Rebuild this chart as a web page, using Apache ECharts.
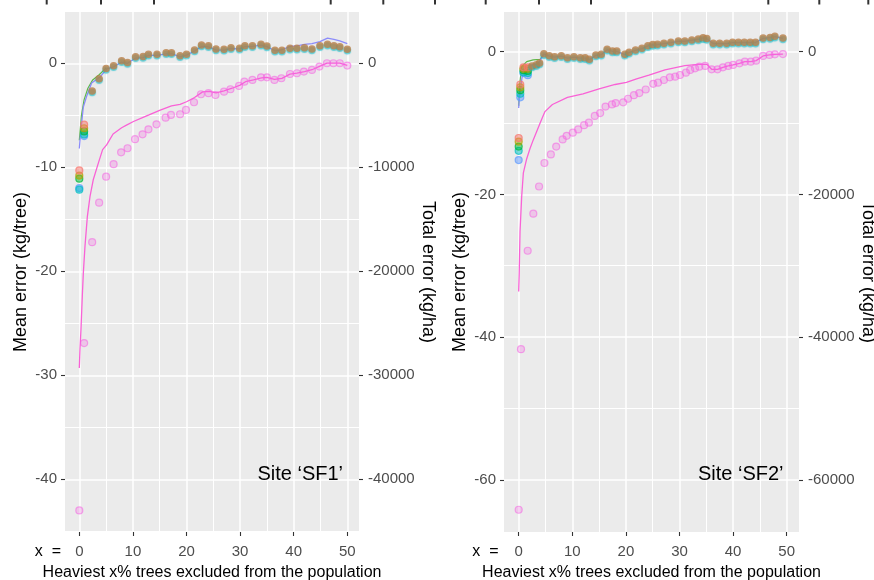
<!DOCTYPE html>
<html><head><meta charset="utf-8">
<script src="https://cdn.jsdelivr.net/npm/echarts@6/dist/echarts.min.js"></script>
<style>html,body{margin:0;padding:0;background:#fff}#c{width:874px;height:580px}</style>
</head><body><div id="c"></div><script>
// ---------- data ----------
// tick labels
const xTicks = [0, 10, 20, 30, 40, 50];
const xMinor = [5, 15, 25, 35, 45];
const yTicks1 = [-40, -30, -20, -10, 0];
const yMinor1 = [-45, -35, -25, -15, -5];
const yRight1 = [-40000, -30000, -20000, -10000, 0];
const yTicks2 = [-60, -40, -20, 0];
const yMinor2 = [-50, -30, -10];
const yRight2 = [-60000, -40000, -20000, 0];

// ---- Site SF1 ----
const startX1 = [0, 0.9];
const orange1 = [-10.3, -5.9];
const olive1 = [-10.8, -6.25];
const green1 = [-11.1, -6.55];
const cyan1 = [-12.15, -6.85];
const blue1 = [-12.0, -7.0];
const meanX1 = [2.4, 3.7, 5.0, 6.4, 7.9, 9.0, 10.5, 11.9, 12.9, 14.5, 16.2, 17.2, 18.8, 20.0, 21.5, 22.8, 24.1, 25.5, 27.0, 28.3, 29.9, 30.9, 32.3, 33.9, 35.0, 36.5, 37.8, 39.3, 40.6, 42.0, 43.4, 44.9, 46.3, 47.5, 48.6, 50.0];
const meanY1 = [-2.66, -1.5, -0.5, -0.25, 0.25, 0.08, 0.62, 0.64, 0.86, 0.86, 1.02, 1.02, 0.73, 0.86, 1.28, 1.76, 1.69, 1.37, 1.35, 1.5, 1.44, 1.69, 1.69, 1.83, 1.66, 1.25, 1.25, 1.44, 1.44, 1.5, 1.37, 1.69, 1.83, 1.69, 1.6, 1.35];
const meanLineX1 = [0, 0.3, 0.75, 1.35, 2.3, 3.9, 5.1, 6.4, 7.9, 9.0, 10.5, 11.9, 12.9, 14.5, 16.2, 17.2, 18.8, 20.0, 21.5, 22.8, 24.1, 25.5, 27.0, 28.3, 29.9, 30.9, 32.3, 33.9, 35.0, 36.5, 37.8, 39.3, 40.6, 42.0, 43.4, 44.9, 46.3, 47.5, 48.6, 50.0];
const meanLineY1 = [-8.2, -6.4, -4.2, -3.2, -1.9, -1.3, -0.55, -0.35, 0.12, 0.0, 0.5, 0.55, 0.75, 0.75, 0.9, 0.92, 0.62, 0.78, 1.18, 1.62, 1.58, 1.28, 1.27, 1.42, 1.38, 1.6, 1.62, 1.75, 1.6, 1.2, 1.3, 1.62, 1.68, 1.82, 1.88, 2.08, 2.42, 2.3, 2.15, 1.9];
const fitX1 = [0, 0.4, 0.9, 1.6, 2.5, 3.7, 5.0];
const fitY1 = [-7.4, -5.0, -3.5, -2.4, -1.6, -1.1, -0.45];
const totalX1 = [0, 0.9, 2.4, 3.7, 5.0, 6.4, 7.8, 9.0, 10.4, 11.8, 12.9, 14.4, 16.1, 17.1, 18.8, 19.9, 21.4, 22.7, 24.1, 25.4, 27.0, 28.2, 29.8, 30.8, 32.3, 33.9, 35.0, 36.4, 37.7, 39.3, 40.6, 41.9, 43.4, 44.8, 46.2, 47.4, 48.6, 50.0];
const totalY1 = [-43000, -26900, -17200, -13400, -10900, -9700, -8560, -8170, -7300, -6830, -6350, -5870, -5230, -4970, -4900, -4490, -3750, -2980, -2880, -3050, -2730, -2500, -2180, -1770, -1600, -1350, -1350, -1600, -1440, -1030, -960, -800, -640, -320, 0, 0, 0, -220];
const totalLineX1 = [0, 0.12, 0.31, 0.56, 0.75, 1.06, 1.5, 2.0, 2.6, 3.55, 4.35, 5.1, 6.3, 7.9, 8.8, 10.1, 11.9, 13.0, 15.1, 17.2, 18.8, 20.0, 21.5, 23.0, 24.3, 25.5, 27.0, 28.5, 30.0, 31.0, 32.5, 34.0, 35.0, 36.4, 37.8, 39.3, 40.6, 42.0, 43.4, 44.8, 46.2, 47.4, 48.6, 50.0];
const totalLineY1 = [-29300, -27600, -25600, -22400, -20200, -17600, -14750, -12800, -11200, -9600, -8300, -7850, -6800, -6200, -5950, -5600, -5200, -4970, -4500, -4100, -3950, -3700, -3300, -2750, -2700, -2850, -2650, -2400, -2100, -1770, -1600, -1400, -1350, -1550, -1450, -1050, -950, -800, -620, -300, 20, 20, 20, -200];

// ---- Site SF2 ----
const startX2 = [0, 0.3, 0.9, 1.7];
const orange2 = [-12.1, -4.6, -2.2, -2.2];
const olive2 = [-12.6, -5.0, -2.4, -2.4];
const green2 = [-13.3, -5.4, -2.6, -2.7];
const cyan2 = [-13.9, -5.9, -2.9, -3.0];
const blue2 = [-15.2, -6.4, -3.0, -3.3];
const meanX2 = [2.5, 3.3, 3.9, 4.7, 5.7, 6.7, 7.95, 9.1, 10.3, 11.5, 12.4, 13.2, 14.4, 15.4, 16.5, 17.5, 18.3, 19.8, 20.6, 21.8, 23.0, 24.1, 25.0, 25.9, 27.1, 28.4, 29.8, 31.0, 32.3, 33.5, 34.4, 35.1, 36.3, 37.5, 38.8, 39.9, 41.0, 42.1, 43.2, 44.2, 45.6, 46.9, 47.8, 49.3];
const meanY2 = [-2.0, -1.85, -1.6, -0.3, -0.56, -0.7, -0.56, -0.84, -0.7, -0.84, -0.84, -1.07, -0.46, -0.37, 0.33, 0.1, 0.1, -0.37, -0.09, 0.24, 0.47, 0.84, 1.0, 1.04, 1.18, 1.32, 1.5, 1.5, 1.64, 1.78, 1.96, 1.85, 1.18, 1.18, 1.18, 1.32, 1.32, 1.32, 1.32, 1.32, 1.9, 2.0, 2.15, 1.9];
const meanLineX2 = [0, 0.1, 0.3, 0.6, 1.2, 2.4, 3.6, 4.7, 5.7, 6.7, 7.95, 9.1, 10.3, 11.5, 12.4, 13.2, 14.4, 15.4, 16.5, 17.5, 18.3, 19.8, 20.6, 21.8, 23.0, 24.1, 25.0, 25.9, 27.1, 28.4, 29.8, 31.0, 32.3, 33.5, 34.4, 35.1, 36.3, 37.5, 38.8, 39.9, 41.0, 42.1, 43.2, 44.2, 45.6, 46.9, 47.8, 49.3];
const meanLineY2 = [-7.9, -6.8, -5.6, -3.7, -2.3, -1.9, -1.75, -0.35, -0.62, -0.75, -0.62, -0.9, -0.76, -0.9, -0.9, -1.12, -0.52, -0.42, 0.27, 0.05, 0.05, -0.42, -0.14, 0.19, 0.42, 0.8, 0.96, 1.0, 1.14, 1.28, 1.46, 1.46, 1.6, 1.74, 1.92, 1.8, 1.14, 1.14, 1.14, 1.28, 1.28, 1.28, 1.28, 1.28, 1.86, 1.96, 2.1, 1.86];
const fitX2 = [0, 0.2, 0.56, 1.5, 2.7, 4.0, 4.7];
const fitY2 = [-7.6, -4.5, -2.1, -1.4, -1.16, -1.07, -0.3];
const totalX2 = [0, 0.43, 1.68, 2.73, 3.8, 4.8, 6.0, 7.0, 8.2, 8.95, 10.1, 11.1, 12.2, 13.1, 14.2, 15.2, 16.2, 17.4, 18.1, 19.5, 20.4, 21.5, 22.5, 23.7, 25.1, 26.0, 27.1, 28.2, 29.2, 30.1, 31.2, 32.0, 32.9, 33.7, 34.8, 36.0, 37.1, 38.1, 39.1, 40.0, 41.2, 42.2, 43.3, 44.3, 45.6, 46.8, 47.8, 49.3];
const totalY2 = [-64200, -41700, -27900, -22700, -18900, -15600, -14400, -13300, -12300, -11800, -11350, -10900, -10300, -9950, -9000, -8600, -7700, -7400, -7200, -7100, -6600, -6100, -5800, -5300, -4500, -4350, -3970, -3600, -3500, -3270, -2940, -2560, -2330, -2100, -2000, -2470, -2470, -2190, -2000, -1860, -1630, -1400, -1400, -1260, -600, -460, -370, -330];
const totalLineX2 = [0, 0.1, 0.25, 0.56, 0.87, 1.5, 2.1, 2.7, 4.0, 4.9, 6.3, 9.1, 12.0, 15.0, 18.0, 20.1, 22.0, 24.3, 27.3, 31.0, 33.5, 35.1, 36.0, 37.1, 38.1, 39.1, 40.0, 41.2, 42.2, 43.3, 44.3, 45.6, 46.8, 47.8, 49.3];
const totalLineY2 = [-33600, -31100, -25200, -20300, -17000, -15000, -13600, -12400, -10000, -8400, -7400, -6400, -5900, -5200, -4600, -4300, -3800, -3300, -2560, -1960, -1770, -1770, -2470, -2470, -2190, -2000, -1860, -1630, -1400, -1400, -1260, -600, -460, -370, -330];

// ---------- building the chart ----------
const FONT = "'Liberation Sans', Arial, Helvetica, sans-serif";
const zip = (xs, ys) => xs.map((x, i) => [x, ys[i]]);
const C = {orange:'#F8766D', olive:'#B79F00', green:'#00BA38', cyan:'#00BFC4', blue:'#619CFF', pink:'#F564E3'};
const rgba = (hex, a) => { const n = parseInt(hex.slice(1), 16); return `rgba(${n>>16&255},${n>>8&255},${n&255},${a})`; };

const panels = [
  {left: 65, width: 294, xmin: -2.668, xmax: 52.18, ymin: -45.07, ymax: 4.93, rmin: -45070, rmax: 4930,
   yT: yTicks1, yM: yMinor1, yR: yRight1},
  {left: 504, width: 295, xmin: -2.74, xmax: 52.3, ymin: -67.32, ymax: 5.56, rmin: -67320, rmax: 5560,
   yT: yTicks2, yM: yMinor2, yR: yRight2}
];

const grids = [], xAxes = [], yAxes = [];
const noLine = {show: false, onZero: false};
panels.forEach((p, i) => {
  grids.push({left: p.left, top: 12, width: p.width, height: 520, show: true, backgroundColor: '#EBEBEB', borderWidth: 0,
    containLabel: false, outerBoundsMode: 'none'});
  const tickStyle = {show: true, inside: false, length: 4, lineStyle: {color: '#333333', width: 1.1}};
  const lab = {color: '#4D4D4D', fontSize: 15, fontFamily: FONT};
  xAxes.push({gridIndex: i, type: 'value', min: p.xmin, max: p.xmax, position: 'bottom',
    axisLine: noLine, axisTick: Object.assign({customValues: xTicks}, tickStyle),
    axisLabel: Object.assign({customValues: xTicks, margin: 12.5, formatter: v => String(v)}, lab),
    splitLine: {show: true, lineStyle: {color: '#FFFFFF', width: 1.5}},
    name: 'Heaviest x% trees excluded from the population', nameLocation: 'middle', nameGap: 33,
    nameTextStyle: {color: '#000', fontSize: 16, fontFamily: FONT}});
  xAxes.push({gridIndex: i, type: 'value', min: p.xmin, max: p.xmax, position: 'top',
    axisLine: noLine, axisTick: {show: false, customValues: xMinor}, axisLabel: {show: false, customValues: xMinor},
    splitLine: {show: true, lineStyle: {color: '#FFFFFF', width: 1}}});
  yAxes.push({gridIndex: i, type: 'value', min: p.ymin, max: p.ymax, position: 'left',
    axisLine: noLine, axisTick: Object.assign({customValues: p.yT}, tickStyle),
    axisLabel: Object.assign({customValues: p.yT, margin: 8, formatter: v => String(v)}, lab),
    splitLine: {show: true, lineStyle: {color: '#FFFFFF', width: 1.5}},
    name: 'Mean error (kg/tree)', nameLocation: 'middle', nameRotate: 90, nameGap: 35,
    nameTextStyle: {color: '#000', fontSize: 18, fontFamily: FONT}});
  yAxes.push({gridIndex: i, type: 'value', min: p.rmin, max: p.rmax, position: 'right',
    axisLine: noLine, axisTick: Object.assign({customValues: p.yR}, tickStyle),
    axisLabel: Object.assign({customValues: p.yR, margin: 9, formatter: v => String(v)}, lab),
    splitLine: {show: false},
    name: 'Total error (kg/ha)', nameLocation: 'middle', nameRotate: -90, nameGap: 60,
    nameTextStyle: {color: '#000', fontSize: 18, fontFamily: FONT}});
  yAxes.push({gridIndex: i, type: 'value', min: p.ymin, max: p.ymax, position: 'left',
    axisLine: noLine, axisTick: {show: false, customValues: p.yM}, axisLabel: {show: false, customValues: p.yM},
    splitLine: {show: true, lineStyle: {color: '#FFFFFF', width: 1}}});
});

function lineS(xi, yi, data, color, width, z) {
  return {type: 'line', xAxisIndex: xi, yAxisIndex: yi, data, showSymbol: false, symbol: 'none',
    lineStyle: {color, width}, z, silent: true};
}
function ptS(xi, yi, data, color, fillA, borderA, z) {
  return {type: 'scatter', xAxisIndex: xi, yAxisIndex: yi, data, symbolSize: 7,
    itemStyle: {color: rgba(color, fillA), borderColor: rgba(color, borderA), borderWidth: 1.2}, z, silent: true};
}
function brownS(xi, yi, data, z) {
  return {type: 'scatter', xAxisIndex: xi, yAxisIndex: yi, data, symbolSize: 7.5,
    itemStyle: {color: '#BC8049', shadowColor: 'rgba(0,185,200,0.75)', shadowBlur: 1, shadowOffsetY: 1.5}, z, silent: true};
}

const series = [];
const sets = [
  {start: startX1, cols: [['orange', orange1], ['olive', olive1], ['green', green1], ['cyan', cyan1], ['blue', blue1]],
   mean: zip(meanX1, meanY1), mline: zip(meanLineX1, meanLineY1), fit: zip(fitX1, fitY1),
   tot: zip(totalX1, totalY1), tline: zip(totalLineX1, totalLineY1)},
  {start: startX2, cols: [['orange', orange2], ['olive', olive2], ['green', green2], ['cyan', cyan2], ['blue', blue2]],
   mean: zip(meanX2, meanY2), mline: zip(meanLineX2, meanLineY2), fit: zip(fitX2, fitY2),
   tot: zip(totalX2, totalY2), tline: zip(totalLineX2, totalLineY2)}
];
sets.forEach((s, i) => {
  const xi = i * 2, yl = i * 3, yr = i * 3 + 1;
  series.push(lineS(xi, yr, s.tline, '#F962D6', 1.3, 3));
  series.push(ptS(xi, yr, s.tot, C.pink, 0.35, 0.7, 4));
  series.push(lineS(xi, yl, s.fit, '#5DB84A', 1.2, 3));
  series.push(lineS(xi, yl, s.mline, '#8C8CFA', 1.3, 3));
  s.cols.slice().reverse().forEach(([name, vals]) => series.push(ptS(xi, yl, zip(s.start, vals), C[name], 0.65, 0.9, 5)));
  series.push(brownS(xi, yl, s.mean, 6));
});

// decorative fragments of the figure above (tick marks cut at the top edge)
const topTickPx = [46.7, 101, 154, 330.7, 383.3, 435, 485.7, 539, 591, 768.3, 819.3, 868.3];
const graphic = topTickPx.map(x => ({type: 'line', shape: {x1: x, y1: 0, x2: x, y2: 4.5}, style: {stroke: '#333', lineWidth: 2}, silent: true}));
[[61, 551.5], [498.5, 551.5]].forEach(([x, y]) => graphic.push({type: 'text', x, y,
  style: {text: 'x  =', fontSize: 16, fontFamily: FONT, fill: '#000', align: 'right', verticalAlign: 'middle'}, silent: true}));
[[343, 474.5, 'Site \u2018SF1\u2019'], [783.5, 474.5, 'Site \u2018SF2\u2019']].forEach(([x, y, t]) => graphic.push({type: 'text', x, y,
  style: {text: t, fontSize: 20, fontFamily: FONT, fill: '#000', align: 'right', verticalAlign: 'middle'}, silent: true, z: 100}));

const chart = echarts.init(document.getElementById('c'), null, {renderer: 'canvas'});
chart.setOption({animation: false, backgroundColor: '#FFFFFF', grid: grids, xAxis: xAxes, yAxis: yAxes, series, graphic});
</script></body></html>
